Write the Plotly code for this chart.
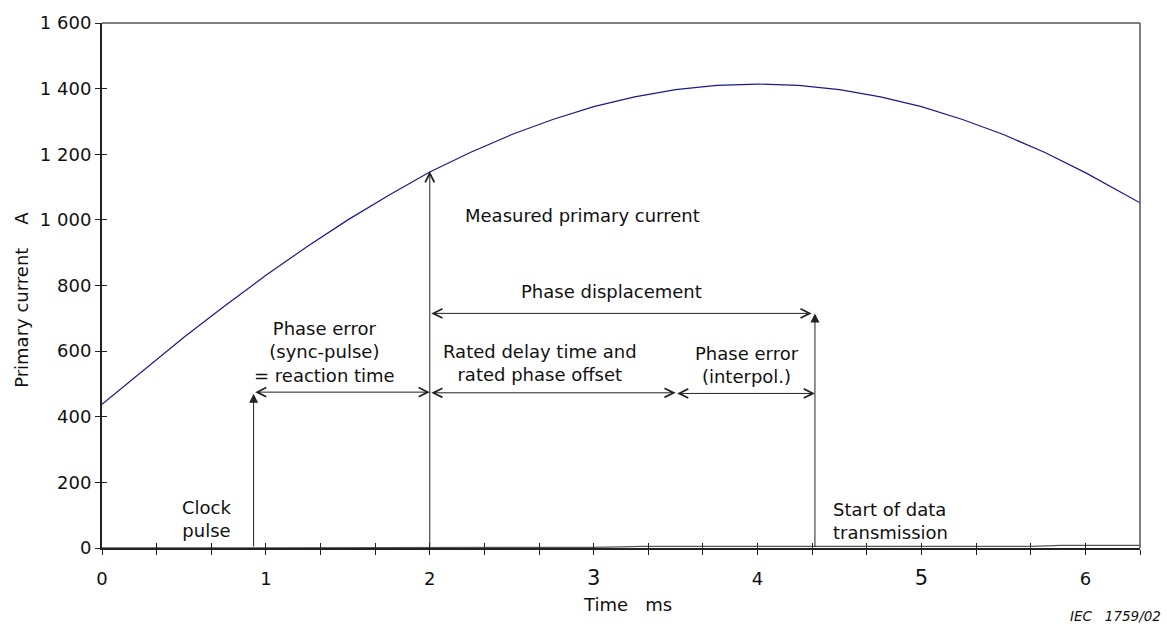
import plotly.graph_objects as go

# ---- data ----
time_ms = [0, 0.25, 0.5, 0.75, 1.0, 1.25, 1.5, 1.75, 2.0, 2.25, 2.5, 2.75, 3.0,
           3.25, 3.5, 3.75, 4.0, 4.25, 4.5, 4.75, 5.0, 5.25, 5.5, 5.75, 6.0, 6.25, 6.333]
current_a = [438, 541, 642, 738, 831, 918, 1000, 1075, 1146, 1206, 1260, 1306, 1345,
             1375, 1397, 1410, 1414, 1410, 1397, 1375, 1345, 1306, 1260, 1206, 1144, 1075, 1052]

signal_t = [0, 0.45, 0.6, 3.0, 3.3, 5.67, 5.85, 6.333]
signal_a = [0, 0, 2, 2, 5, 5, 8, 8]

y_tick_vals = [0, 200, 400, 600, 800, 1000, 1200, 1400, 1600]
y_tick_labels = ["0", "200", "400", "600", "800", "1 000", "1 200", "1 400", "1 600"]
x_tick_labels = ["0", "1", "2", "<span style='font-size:21px'>3</span>", "4",
                 "<span style='font-size:21px'>5</span>", "6"]

# event times (ms) and levels (A) for the annotation arrows
clock_pulse_t = 0.925
sync_t = 2.0
interp_t = 3.5
data_tx_t = 4.35
sync_level = 475
interp_level = 471
displacement_level = 715
clock_head = 470
measured_head = 1148
data_tx_head = 715

FONT = "DejaVu Sans"
FS = 18

x_max = 19 / 3
x_tickvals = [i / 3 for i in range(20)]
x_ticktext = []
for i in range(20):
    x_ticktext.append(x_tick_labels[i // 3] if i % 3 == 0 else "")

fig = go.Figure()
fig.add_trace(go.Scatter(x=time_ms, y=current_a, mode="lines",
                         line=dict(color="#1a1a8c", width=1.2), hoverinfo="skip"))
fig.add_trace(go.Scatter(x=signal_t, y=signal_a, mode="lines",
                         line=dict(color="#555555", width=1.3), hoverinfo="skip"))
# invisible trace on overlay axes (for crossing ticks)
fig.add_trace(go.Scatter(x=[0], y=[0], xaxis="x2", yaxis="y2", mode="markers",
                         marker=dict(opacity=0), hoverinfo="skip"))

axis_common = dict(showgrid=False, zeroline=False)
fig.update_layout(
    width=1167, height=624,
    margin=dict(l=102, r=27, t=19, b=76),
    paper_bgcolor="white", plot_bgcolor="white",
    showlegend=False,
    font=dict(family=FONT, size=FS, color="#111"),
    xaxis=dict(range=[0, x_max], tickmode="array", tickvals=x_tickvals, ticktext=x_ticktext,
               ticks="outside", ticklen=5, tickwidth=1.3, tickcolor="#222",
               showline=True, linecolor="#222", linewidth=2, ticklabelstandoff=8,
               tickfont=dict(family=FONT, size=FS, color="#111"), **axis_common),
    xaxis2=dict(range=[0, x_max], overlaying="x", anchor="y", side="bottom",
                tickmode="array", tickvals=x_tickvals, ticks="inside", ticklen=5,
                tickwidth=1.3, tickcolor="#222", showticklabels=False, showline=False,
                **axis_common),
    yaxis=dict(range=[0, 1600], tickmode="array", tickvals=y_tick_vals, ticktext=y_tick_labels,
               ticks="outside", ticklen=5, tickwidth=1.3, tickcolor="#222",
               showline=True, linecolor="#222", linewidth=2,
               tickfont=dict(family=FONT, size=FS, color="#111"), **axis_common),
    yaxis2=dict(range=[0, 1600], overlaying="y", anchor="x", side="left",
                tickmode="array", tickvals=y_tick_vals, ticks="inside", ticklen=5,
                tickwidth=1.3, tickcolor="#222", showticklabels=False, showline=False,
                **axis_common),
)

# frame top and right
fig.add_shape(type="line", xref="paper", yref="paper", x0=0, x1=1, y0=1, y1=1,
              line=dict(color="#555", width=1.5))
fig.add_shape(type="line", xref="paper", yref="paper", x0=1, x1=1, y0=0, y1=1,
              line=dict(color="#555", width=1.5))

arrow_common = dict(xref="x", yref="y", axref="x", ayref="y", text="", showarrow=True,
                    arrowcolor="#222", arrowwidth=1, standoff=0, startstandoff=0)
# vertical arrows
fig.add_annotation(x=clock_pulse_t, y=clock_head, ax=clock_pulse_t, ay=0,
                   arrowhead=2, arrowsize=1.8, **arrow_common)
fig.add_annotation(x=sync_t, y=measured_head, ax=sync_t, ay=0,
                   arrowhead=5, arrowsize=1.8, **arrow_common)
fig.add_annotation(x=data_tx_t, y=data_tx_head, ax=data_tx_t, ay=0,
                   arrowhead=2, arrowsize=1.8, **arrow_common)
# horizontal double arrows
for (xa, xb, lvl) in [(clock_pulse_t, sync_t, sync_level),
                      (sync_t, interp_t, interp_level + 2),
                      (interp_t, data_tx_t, interp_level),
                      (sync_t, data_tx_t - 0.02, displacement_level)]:
    fig.add_annotation(x=xb, y=lvl, ax=xa, ay=lvl, arrowhead=5, arrowsize=1.8,
                       arrowside="end+start", startarrowhead=5, startarrowsize=1.8,
                       **arrow_common)

# text labels
def label(txt, x, y, xanchor="center"):
    fig.add_annotation(x=x, y=y, xref="x", yref="y", text=txt, showarrow=False,
                       xanchor=xanchor, yanchor="middle", align="left" if xanchor == "left" else "center",
                       font=dict(family=FONT, size=FS, color="#111"))

label("Measured primary current", 2.20, 1013, "left")
label("Phase displacement", 3.11, 783)
label("Phase error<br>(sync-pulse)<br>= reaction time", 1.36, 596)
label("Rated delay time and<br>rated phase offset", 2.67, 564)
label("Phase error<br>(interpol.)", 3.935, 558)
label("Clock<br>pulse", 0.64, 88)
label("Start of data<br>transmission", 4.45, 82, "left")

# axis titles
fig.add_annotation(x=-0.0771, y=0.4726, xref="paper", yref="paper", showarrow=False,
                   text="Primary current\u00a0\u00a0\u00a0\u00a0A", textangle=-90,
                   xanchor="center", yanchor="middle", font=dict(family=FONT, size=FS, color="#111"))
fig.add_annotation(x=0.5067, y=-0.1078, xref="paper", yref="paper", showarrow=False,
                   text="Time\u00a0\u00a0\u00a0ms", xanchor="center", yanchor="middle",
                   font=dict(family=FONT, size=FS, color="#111"))
fig.add_annotation(x=1.0222, y=-0.1304, xref="paper", yref="paper", showarrow=False,
                   text="<i>IEC\u00a0\u00a0\u00a01759/02</i>", xanchor="right", yanchor="middle",
                   font=dict(family=FONT, size=13.5, color="#111"))

fig.write_html("out.html", config={"displayModeBar": False},
               post_script="document.body.style.margin='0';document.body.style.overflow='hidden';")
